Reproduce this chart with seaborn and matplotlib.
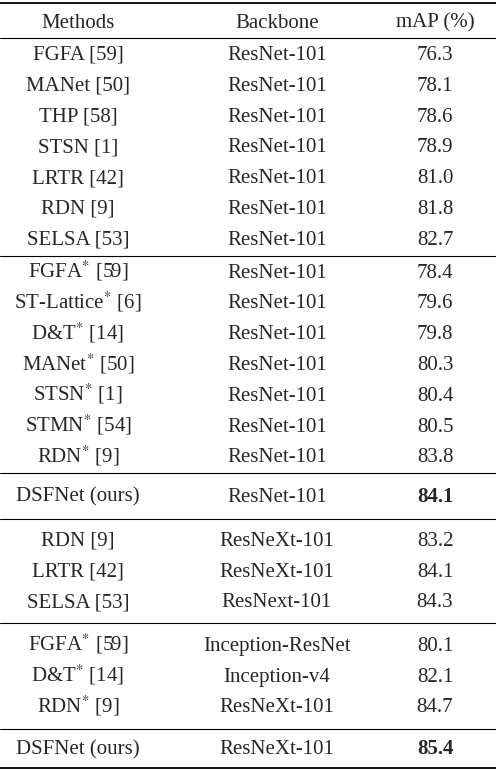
import matplotlib
matplotlib.use("Agg")
import matplotlib.pyplot as plt
import seaborn as sns

sns.set_style("white")
plt.rcParams['font.family'] = ['Liberation Serif', 'DejaVu Serif']
plt.rcParams['mathtext.fontset'] = 'stix'

# table data, one list per row group
headers = ["Methods", "Backbone", "mAP (%)"]
methods = [
    ["FGFA [59]", "MANet [50]", "THP [58]", "STSN [1]", "LRTR [42]", "RDN [9]", "SELSA [53]"],
    ["FGFA$^{*}$ [59]", "ST-Lattice$^{*}$ [6]", "D&T$^{*}$ [14]", "MANet$^{*}$ [50]",
     "STSN$^{*}$ [1]", "STMN$^{*}$ [54]", "RDN$^{*}$ [9]"],
    ["DSFNet (ours)"],
    ["RDN [9]", "LRTR [42]", "SELSA [53]"],
    ["FGFA$^{*}$ [59]", "D&T$^{*}$ [14]", "RDN$^{*}$ [9]"],
    ["DSFNet (ours)"],
]
backbones = [
    ["ResNet-101"] * 7,
    ["ResNet-101"] * 7,
    ["ResNet-101"],
    ["ResNeXt-101", "ResNeXt-101", "ResNext-101"],
    ["Inception-ResNet", "Inception-v4", "ResNeXt-101"],
    ["ResNeXt-101"],
]
maps = [
    [76.3, 78.1, 78.6, 78.9, 81.0, 81.8, 82.7],
    [78.4, 79.6, 79.8, 80.3, 80.4, 80.5, 83.8],
    [84.1],
    [83.2, 84.1, 84.3],
    [80.1, 82.1, 84.7],
    [85.4],
]
bold_groups = [2, 5]

W, H = 496, 770
fig, ax = plt.subplots(figsize=(W / 100, H / 100), dpi=100)
fig.subplots_adjust(0, 0, 1, 1)
ax.set_xlim(0, W)
ax.set_ylim(H, 0)
ax.axis("off")

cols = [78, 277, 435]
fs = 15
row_h = 30.8
pads = [1, 1, 7.5, 6, 6.5, 4.5]
base_off = 5.5  # baseline below row centre

y = 3
ax.axhline(y, color="black", lw=1.3)
for x, h in zip(cols, headers):
    ax.text(x, y + 19 + base_off, h, ha="center", va="baseline", fontsize=fs)
y += 35
ax.axhline(y, color="black", lw=0.8)

for g, (m, b, v) in enumerate(zip(methods, backbones, maps)):
    pad = pads[g]
    yy = y + pad + row_h / 2 + base_off
    for mi, bi, vi in zip(m, b, v):
        ax.text(cols[0], yy, mi, ha="center", va="baseline", fontsize=fs)
        ax.text(cols[1], yy, bi, ha="center", va="baseline", fontsize=fs)
        ax.text(cols[2], yy, f"{vi:.1f}", ha="center", va="baseline", fontsize=fs,
                fontweight="bold" if g in bold_groups else "normal")
        yy += row_h
    y += row_h * len(m) + 2 * pad
    ax.axhline(min(y, H - 2), color="black", lw=1.3 if g == len(methods) - 1 else 0.8)

fig.savefig("out.png", dpi=100)
